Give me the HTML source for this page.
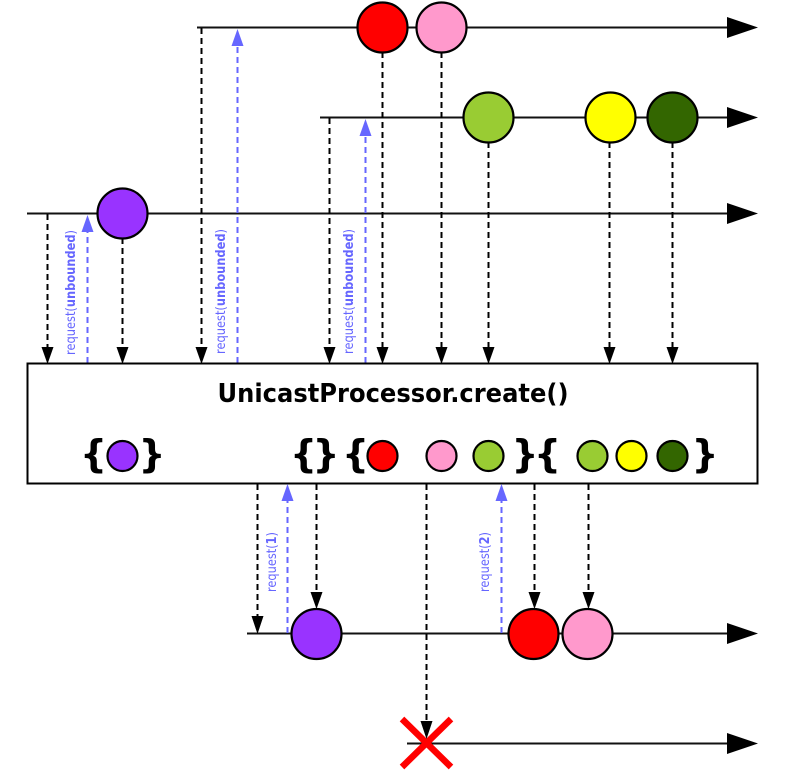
<!DOCTYPE html>
<html>
<head>
<meta charset="utf-8">
<style>
html,body{margin:0;padding:0;background:#fff;}
svg{display:block;}
.l{stroke:#111;stroke-width:2;fill:none;}
.d{stroke:#000;stroke-width:2;stroke-dasharray:6 4;fill:none;}
.b{stroke:#6666ff;stroke-width:2;stroke-dasharray:6 4;fill:none;}
.c{stroke:#000;stroke-width:2.2;}
.r{font-family:"DejaVu Sans",sans-serif;font-size:13px;fill:#6666ff;}
.br{font-family:"DejaVu Sans",sans-serif;font-weight:bold;font-size:38px;fill:#000;text-anchor:middle;}
</style>
</head>
<body>
<svg width="785" height="772" viewBox="0 0 785 772" xmlns="http://www.w3.org/2000/svg">
<!-- timelines -->
<line class="l" x1="197" y1="27.5" x2="730" y2="27.5"/>
<polygon points="727,17 758,27.5 727,38"/>
<line class="l" x1="320" y1="117.5" x2="730" y2="117.5"/>
<polygon points="727,107 758,117.5 727,128"/>
<line class="l" x1="27" y1="213.5" x2="730" y2="213.5"/>
<polygon points="727,203 758,213.5 727,224"/>
<line class="l" x1="247" y1="633.5" x2="730" y2="633.5"/>
<polygon points="727,623 758,633.5 727,644"/>
<line class="l" x1="407" y1="743.5" x2="730" y2="743.5"/>
<polygon points="727,733 758,743.5 727,754"/>

<!-- dashed down -->
<line class="d" x1="47.5" y1="214" x2="47.5" y2="348"/><polygon points="41.5,347 53.5,347 47.5,364"/>
<line class="d" x1="122.5" y1="238" x2="122.5" y2="348"/><polygon points="116.5,347 128.5,347 122.5,364"/>
<line class="d" x1="201.5" y1="28" x2="201.5" y2="348"/><polygon points="195.5,347 207.5,347 201.5,364"/>
<line class="d" x1="329.5" y1="118" x2="329.5" y2="348"/><polygon points="323.5,347 335.5,347 329.5,364"/>
<line class="d" x1="382.5" y1="52" x2="382.5" y2="348"/><polygon points="376.5,347 388.5,347 382.5,364"/>
<line class="d" x1="441.5" y1="52" x2="441.5" y2="348"/><polygon points="435.5,347 447.5,347 441.5,364"/>
<line class="d" x1="488.5" y1="142" x2="488.5" y2="348"/><polygon points="482.5,347 494.5,347 488.5,364"/>
<line class="d" x1="609.5" y1="142" x2="609.5" y2="348"/><polygon points="603.5,347 615.5,347 609.5,364"/>
<line class="d" x1="672.5" y1="142" x2="672.5" y2="348"/><polygon points="666.5,347 678.5,347 672.5,364"/>

<!-- blue up -->
<line class="b" x1="87.5" y1="363" x2="87.5" y2="230"/><polygon fill="#6666ff" points="81.5,232 93.5,232 87.5,215"/>
<line class="b" x1="237.5" y1="363" x2="237.5" y2="44"/><polygon fill="#6666ff" points="231.5,46 243.5,46 237.5,29"/>
<line class="b" x1="365.5" y1="363" x2="365.5" y2="134"/><polygon fill="#6666ff" points="359.5,136 371.5,136 365.5,119"/>

<!-- request labels -->
<text class="r" transform="translate(75,355) rotate(-90)" textLength="125" lengthAdjust="spacingAndGlyphs">request(<tspan font-weight="bold">unbounded</tspan>)</text>
<text class="r" transform="translate(225,354) rotate(-90)" textLength="125" lengthAdjust="spacingAndGlyphs">request(<tspan font-weight="bold">unbounded</tspan>)</text>
<text class="r" transform="translate(353,354) rotate(-90)" textLength="125" lengthAdjust="spacingAndGlyphs">request(<tspan font-weight="bold">unbounded</tspan>)</text>

<!-- top circles -->
<circle class="c" cx="122.5" cy="213.5" r="25" fill="#9933ff"/>
<circle class="c" cx="382.5" cy="27.5" r="25" fill="#ff0000"/>
<circle class="c" cx="441.5" cy="27.5" r="25" fill="#ff99cc"/>
<circle class="c" cx="488.5" cy="117.5" r="25" fill="#99cc33"/>
<circle class="c" cx="610.5" cy="117.5" r="25" fill="#ffff00"/>
<circle class="c" cx="672.5" cy="117.5" r="25" fill="#336600"/>

<!-- box -->
<rect x="27.5" y="363.5" width="730" height="120" fill="#fff" stroke="#000" stroke-width="2"/>
<text x="393" y="402" text-anchor="middle" font-family="'DejaVu Sans',sans-serif" font-weight="bold" font-size="26" textLength="351" lengthAdjust="spacingAndGlyphs">UnicastProcessor.create()</text>

<!-- braces -->
<text class="br" x="93.5" y="467">{</text>
<text class="br" x="152" y="467">}</text>
<text class="br" x="303.5" y="467">{</text>
<text class="br" x="326" y="467">}</text>
<text class="br" x="355.5" y="467">{</text>
<text class="br" x="525" y="467">}</text>
<text class="br" x="547.5" y="467">{</text>
<text class="br" x="705" y="467">}</text>

<!-- inner circles -->
<circle class="c" cx="122.5" cy="456" r="15" fill="#9933ff"/>
<circle class="c" cx="382.5" cy="456" r="15" fill="#ff0000"/>
<circle class="c" cx="441.5" cy="456" r="15" fill="#ff99cc"/>
<circle class="c" cx="488.5" cy="456" r="15" fill="#99cc33"/>
<circle class="c" cx="592.5" cy="456" r="15" fill="#99cc33"/>
<circle class="c" cx="631.5" cy="456" r="15" fill="#ffff00"/>
<circle class="c" cx="672.5" cy="456" r="15" fill="#336600"/>

<!-- lower arrows -->
<line class="d" x1="257.5" y1="484" x2="257.5" y2="618"/><polygon points="251.5,616 263.5,616 257.5,634"/>
<line class="b" x1="287.5" y1="633" x2="287.5" y2="500"/><polygon fill="#6666ff" points="281.5,501 293.5,501 287.5,484"/>
<line class="d" x1="316.5" y1="484" x2="316.5" y2="594"/><polygon points="310.5,592 322.5,592 316.5,609"/>
<line class="d" x1="426.5" y1="484" x2="426.5" y2="724"/>
<line class="b" x1="501.5" y1="633" x2="501.5" y2="500"/><polygon fill="#6666ff" points="495.5,501 507.5,501 501.5,484"/>
<line class="d" x1="534.5" y1="484" x2="534.5" y2="594"/><polygon points="528.5,592 540.5,592 534.5,609"/>
<line class="d" x1="588.5" y1="484" x2="588.5" y2="594"/><polygon points="582.5,592 594.5,592 588.5,609"/>

<text class="r" transform="translate(276,592) rotate(-90)" textLength="60" lengthAdjust="spacingAndGlyphs">request(<tspan font-weight="bold">1</tspan>)</text>
<text class="r" transform="translate(489,592) rotate(-90)" textLength="60" lengthAdjust="spacingAndGlyphs">request(<tspan font-weight="bold">2</tspan>)</text>

<!-- lower circles -->
<circle class="c" cx="316.5" cy="634" r="25" fill="#9933ff"/>
<circle class="c" cx="533.5" cy="634" r="25" fill="#ff0000"/>
<circle class="c" cx="587.5" cy="634" r="25" fill="#ff99cc"/>

<!-- X -->
<line x1="402" y1="719" x2="451" y2="767" stroke="#ff0000" stroke-width="6.5"/>
<line x1="451" y1="719" x2="402" y2="767" stroke="#ff0000" stroke-width="6.5"/>
<polygon points="420.5,721 432.5,721 426.5,739"/>
</svg>
</body>
</html>
